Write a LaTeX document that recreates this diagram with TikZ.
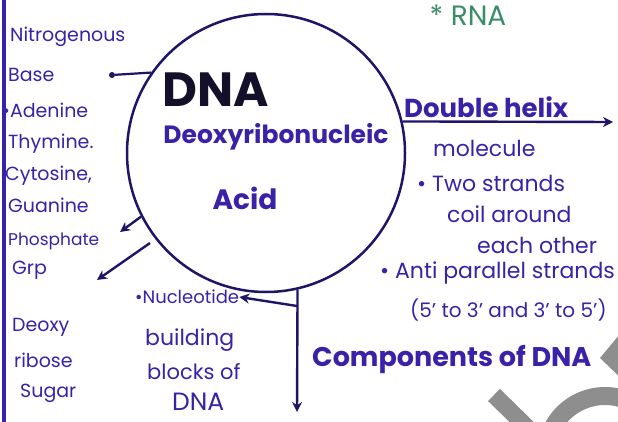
\documentclass[tikz,border=0pt]{standalone}
\usepackage{fontspec}
\setmainfont{Poppins}
\usetikzlibrary{arrows.meta,positioning}
\definecolor{ink}{HTML}{3A22A8}
\definecolor{inkdark}{HTML}{1E1566}
\definecolor{titleink}{HTML}{15102A}
\definecolor{rnagreen}{HTML}{3C8C6A}
\definecolor{stampgray}{HTML}{8E8E8E}

\begin{document}
\begin{tikzpicture}[x=1pt,y=-1pt,
  note/.style={font=\fontsize{19}{21}\selectfont,ink,inner sep=0pt,anchor=west},
  side/.style={font=\fontsize{22}{24}\selectfont,ink,inner sep=0pt,anchor=west},
  inner/.style={font=\fontsize{26}{28}\selectfont\bfseries,ink,inner sep=0pt},
  link/.style={line width=2.4pt,inkdark,-{Stealth[length=10pt,width=10pt]}}]
  \path[use as bounding box,clip] (0,0) rectangle (618,422);
  \fill[white] (0,0) rectangle (618,422);

  % margin line
  \draw[line width=4pt,ink] (4,-5) -- (4,430);

  % the big circle
  \node[circle,draw=inkdark,line width=2.5pt,minimum size=278pt,inner sep=0pt] (dna) at (266,153) {};
  \node[font=\fontsize{48}{50}\selectfont\bfseries,titleink,inner sep=0pt] (dnaTitle) at (216,90) {DNA};
  \node[inner,font=\fontsize{25}{27}\selectfont\bfseries] (deoxy) at (276,137) {Deoxyribonucleic};
  \node[inner,font=\fontsize{28}{30}\selectfont\bfseries] (acid) at (245,198) {Acid};

  % bases and sugar on the left
  \node[note] (nitro) at (10,37) {Nitrogenous};
  \node[note] (base) at (8,75) {Base};
  \node[note] (adenine) at (2,110) {\textbullet Adenine};
  \node[note] (thymine) at (8,144) {Thymine.};
  \node[note] (cytosine) at (5,176) {Cytosine,};
  \node[note] (guanine) at (8,205) {Guanine};
  \node[note,font=\fontsize{17}{19}\selectfont] (phosphate) at (8,241) {Phosphate};
  \node[note] (grp) at (12,270) {Grp};
  \node[note] (deoxyL) at (12,327) {Deoxy};
  \node[note] (ribose) at (14,360) {ribose};
  \node[note] (sugar) at (20,393) {Sugar};

  \node[circle,fill=inkdark,inner sep=0pt,minimum size=6pt] (baseDot) at (112,75) {};
  \draw[line width=2.2pt,inkdark] (dna.145) -- (baseDot);
  \coordinate (phosTip) at (120,232);
  \draw[link] (dna.207) -- (phosTip);
  \coordinate (grpStart) at (150,243);
  \coordinate (grpTip) at (97,280);
  \draw[link] (grpStart) -- (grpTip);

  % nucleotide below
  \node[note,font=\fontsize{18}{20}\selectfont] (nucleo) at (135,297) {\textbullet Nucleotide};
  \node[note,font=\fontsize{22}{24}\selectfont] (building) at (145,340) {building};
  \node[note,font=\fontsize{21}{23}\selectfont] (blocks) at (147,372) {blocks of};
  \node[note,font=\fontsize{25}{27}\selectfont] (dnaLow) at (172,402) {DNA};
  \coordinate (stemEnd) at (297,412);
  \draw[link] (dna.-77) -- (stemEnd);
  \coordinate (stemJoin) at (297,306);
  \draw[link] (stemJoin) -- (nucleo.east);

  % right side
  \node[font=\fontsize{28}{30}\selectfont,rnagreen,inner sep=0pt] (rna) at (468,15) {* RNA};
  \coordinate (helixEnd) at (613,122);
  \draw[link] (dna.13) -- (helixEnd);
  \node[side,anchor=south west,font=\fontsize{26}{28}\selectfont\bfseries] (helix) at (404,118) {Double helix};
  \node[side] (molecule) at (433,148) {molecule};
  \node[side] (twoStrands) at (417,183) {\textbullet\ Two strands};
  \node[side] (coil) at (447,214) {coil around};
  \node[side] (eachOther) at (477,245) {each other};
  \node[side] (anti) at (380,273) {\textbullet\ Anti parallel strands};
  \node[side,font=\fontsize{20}{22}\selectfont] (direction) at (410,310) {(5' to 3' and 3' to 5')};
  \node[side,font=\fontsize{27}{29}\selectfont\bfseries] (components) at (312,360) {Components of DNA};

  % grey mark in the corner
  \fill[stampgray] (600,358) -- (625,328) -- (625,382) -- cycle;
  \draw[stampgray,line width=17pt] (494,395) -- (540,440);
  \draw[stampgray,line width=18pt] (605,455) circle (59);
\end{tikzpicture}
\end{document}
